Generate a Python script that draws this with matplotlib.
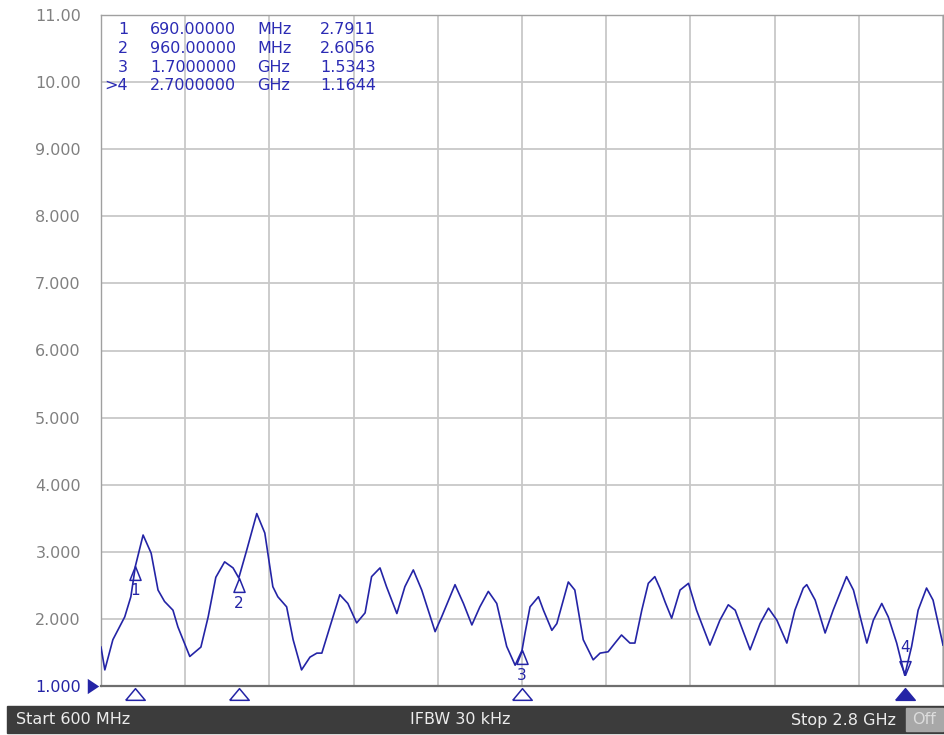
import numpy as np
import matplotlib
matplotlib.use('Agg')
import matplotlib.pyplot as plt
from matplotlib.patches import Rectangle
from matplotlib.transforms import blended_transform_factory

# ── Data ──────────────────────────────────────────────────────────────────────
freq_mhz = [600, 610, 631, 662, 678, 690, 710, 731, 749, 766, 788, 801, 832,
            861, 880, 900, 923, 945, 960, 981, 1007, 1028, 1049, 1062, 1085,
            1102, 1124, 1146, 1164, 1177, 1198, 1224, 1245, 1268, 1290, 1307,
            1329, 1346, 1373, 1394, 1416, 1438, 1473, 1490, 1525, 1547, 1569,
            1590, 1612, 1634, 1660, 1682, 1700, 1708, 1721, 1743, 1756, 1778,
            1791, 1821, 1838, 1860, 1886, 1904, 1925, 1943, 1960, 1982, 1995,
            2013, 2030, 2047, 2061, 2074, 2091, 2113, 2135, 2156, 2191, 2217,
            2239, 2257, 2296, 2322, 2344, 2366, 2392, 2413, 2435, 2444, 2466,
            2492, 2513, 2548, 2566, 2601, 2618, 2640, 2657, 2679, 2700, 2718,
            2735, 2757, 2774, 2797, 2800]
vswr = [1.58, 1.24, 1.69, 2.03, 2.33, 2.79, 3.25, 2.98, 2.43, 2.26, 2.13, 1.88, 1.44,
        1.58, 2.03, 2.62, 2.85, 2.76, 2.61, 3.03, 3.57, 3.28, 2.48, 2.33, 2.18,
        1.69, 1.24, 1.43, 1.49, 1.49, 1.88, 2.36, 2.23, 1.94, 2.09, 2.63,
        2.76, 2.48, 2.08, 2.48, 2.73, 2.43, 1.81, 2.03, 2.51, 2.23, 1.91,
        2.18, 2.41, 2.23, 1.59, 1.31, 1.53, 1.79, 2.18, 2.33, 2.13, 1.83,
        1.93, 2.55, 2.43, 1.69, 1.39, 1.49, 1.51, 1.64, 1.76, 1.64, 1.64,
        2.13, 2.53, 2.63, 2.45, 2.25, 2.01, 2.43, 2.53, 2.13, 1.61, 1.98,
        2.21, 2.13, 1.54, 1.93, 2.16, 1.98, 1.64, 2.13, 2.46, 2.51, 2.28,
        1.79, 2.13, 2.63, 2.43, 1.64, 1.98, 2.23, 2.03, 1.64, 1.16, 1.59,
        2.13, 2.46, 2.28, 1.69, 1.61]

marker_ids = ['1', '2', '3', '>4']
marker_freq = [690, 960, 1700, 2700]
marker_val = [2.7911, 2.6056, 1.5343, 1.1644]
marker_freq_txt = ['690.00000', '960.00000', '1.7000000', '2.7000000']
marker_unit = ['MHz', 'MHz', 'GHz', 'GHz']
marker_val_txt = ['2.7911', '2.6056', '1.5343', '1.1644']

y_ticks = list(range(1, 12))
y_labels = ['1.000', '2.000', '3.000', '4.000', '5.000', '6.000', '7.000',
            '8.000', '9.000', '10.00', '11.00']

BLUE = '#2424a6'
TXT_BLUE = '#2b2bb4'
GRAY = '#808080'
W, H = 945, 735

def fx(px): return px / W
def fy(py): return 1 - py / H

# ── Figure / axes ─────────────────────────────────────────────────────────────
fig = plt.figure(figsize=(W / 100, H / 100), dpi=100)
fig.patch.set_facecolor('white')
ax = fig.add_axes([fx(101), fy(686), 842 / W, 671 / H])

ax.plot(freq_mhz, vswr, color=BLUE, lw=1.2, zorder=3)

ax.set_xlim(600, 2800)
ax.set_ylim(1, 11)
ax.set_xticks(np.linspace(600, 2800, 11))
ax.set_xticklabels([])
ax.set_yticks(y_ticks)
ax.set_yticklabels(y_labels, fontsize=11.5, color=GRAY)
ax.get_yticklabels()[0].set_color(BLUE)
ax.tick_params(length=0, pad=14.5)
ax.grid(True, color='#c8c8c8', lw=1.3)
ax.set_axisbelow(True)
for side in ['left', 'top', 'right']:
    ax.spines[side].set_color('#a0a0a0')
    ax.spines[side].set_linewidth(1.0)
ax.spines['bottom'].set_color('#6e6e6e')
ax.spines['bottom'].set_linewidth(1.6)

# reference level pointer
tr_ay = blended_transform_factory(ax.transAxes, ax.transData)
ax.plot([-0.0095], [1.0], transform=tr_ay, clip_on=False, color=BLUE,
        marker=[(-0.75, 1), (0.75, 0), (-0.75, -1), (-0.75, 1)], ms=11, mew=0)

# markers on the trace
up_tri = [(0, 0), (-0.4, -1), (0.4, -1), (0, 0)]
dn_tri = [(0, 0), (-0.4, 1), (0.4, 1), (0, 0)]
for i, (f, v) in enumerate(zip(marker_freq, marker_val)):
    active = (i == len(marker_freq) - 1)
    ax.plot([f], [v], marker=dn_tri if active else up_tri, ms=20,
            mfc='none', mec=BLUE, mew=1.1, zorder=4)
    ax.annotate(marker_ids[i].strip('>'), (f, v),
                xytext=(0, 20 if active else -18), textcoords='offset points',
                ha='center', va='center', fontsize=11, color=BLUE, zorder=4)

# markers under the x axis
tr_xa = blended_transform_factory(ax.transData, ax.transAxes)
base_tri = [(-1, -0.6), (1, -0.6), (0, 0.6), (-1, -0.6)]
for i, f in enumerate(marker_freq):
    active = (i == len(marker_freq) - 1)
    ax.plot([f], [-0.012], transform=tr_xa, clip_on=False, marker=base_tri,
            ms=14, mfc=BLUE if active else 'white', mec=BLUE, mew=1.1)

# marker readout table
rows_y = [30, 48.5, 67, 85.5]
for i, ry in enumerate(rows_y):
    kw = dict(fontsize=11.5, color=TXT_BLUE, va='center')
    fig.text(fx(128), fy(ry), marker_ids[i], ha='right', **kw)
    fig.text(fx(150), fy(ry), marker_freq_txt[i], ha='left', **kw)
    fig.text(fx(257), fy(ry), marker_unit[i], ha='left', **kw)
    fig.text(fx(320), fy(ry), marker_val_txt[i], ha='left', **kw)

# ── Status bar ────────────────────────────────────────────────────────────────
fig.add_artist(Rectangle((fx(7), fy(733)), 1 - fx(7), (733 - 706) / H,
                         transform=fig.transFigure, color='#3c3c3c', zorder=0))
fig.add_artist(Rectangle((fx(906), fy(731)), (943 - 906) / W, (731 - 708) / H,
                         transform=fig.transFigure, color='#a8a8a8', zorder=1))
bar_font = ['Liberation Sans Narrow', 'DejaVu Sans']
bkw = dict(fontsize=11.5, color='#ececec', va='center', family=bar_font)
fig.text(fx(16), fy(720), 'Start 600 MHz', ha='left', **bkw)
fig.text(fx(460), fy(720), 'IFBW 30 kHz', ha='center', **bkw)
fig.text(fx(896), fy(720), 'Stop 2.8 GHz', ha='right', **bkw)
fig.text(fx(924.5), fy(720), 'Off', ha='center', fontsize=11.5, color='#dcdcdc',
         va='center', family=bar_font)

fig.savefig('out.png', dpi=100)
